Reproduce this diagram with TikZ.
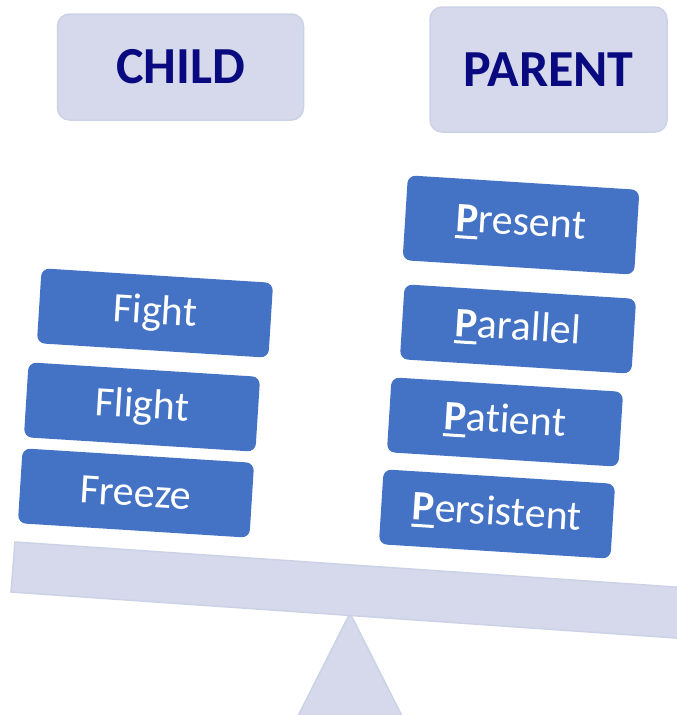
\documentclass[tikz,border=0pt]{standalone}
\usepackage{fontspec}
\setmainfont[Ligatures={NoCommon}]{Carlito}
\definecolor{lightbox}{HTML}{D5D9EB}
\definecolor{lightedge}{HTML}{CCD2E6}
\definecolor{bluebox}{HTML}{4472C4}
\definecolor{navytext}{HTML}{0A0A80}
\newcommand\pul[1]{\setbox0\hbox{#1}\rlap{\rule[-7pt]{\wd0}{3pt}}\box0}
\tikzset{
  headbox/.style={draw=lightedge, line width=1.5pt, fill=lightbox, rounded corners=12pt,
    inner sep=0pt, text=navytext, font=\fontsize{52}{60}\selectfont\bfseries},
  itembox/.style={fill=bluebox, rounded corners=8pt, inner sep=0pt,
    minimum width=232pt, minimum height=75pt, text=white,
    font=\fontsize{42}{50}\selectfont, rotate=-3.6},
  scalepart/.style={fill=lightbox, draw=lightedge, line width=1.5pt}
}
\begin{document}
\begin{tikzpicture}[x=1pt,y=-1pt]
\path[use as bounding box] (0,0) rectangle (677,715);
\clip (0,0) rectangle (677,715);
% scale
\coordinate (b1) at (15,542);
\coordinate (b2) at (690,588);
\coordinate (b3) at (690,639);
\coordinate (b4) at (11,592);
\coordinate (apex) at (350,613);
\coordinate (tl) at (296,720);
\coordinate (tr) at (404,720);
\draw[scalepart] (apex) -- (tr) -- (tl) -- cycle;
\draw[scalepart] (b1) -- (b2) -- (b3) -- (b4) -- cycle;
% headers
\node[headbox, minimum width=246pt, minimum height=106pt] (child) at (180.5,67) {CHILD};
\node[headbox, minimum width=237pt, minimum height=125pt] (parent) at (548.5,69.5) {PARENT};
% child items
\node[itembox] (fight) at (155,313) {Fight};
\node[itembox] (flight) at (142,407) {Flight};
\node[itembox] (freeze) at (136,493) {Freeze};
% parent items
\node[itembox, minimum height=85pt] (present) at (521,225) {\pul{\textbf{P}}resent};
\node[itembox] (parallel) at (518,329) {\pul{\textbf{P}}arallel};
\node[itembox] (patient) at (505,422) {\pul{\textbf{P}}atient};
\node[itembox] (persistent) at (497,514) {\pul{\textbf{P}}ersistent};
\end{tikzpicture}
\end{document}
